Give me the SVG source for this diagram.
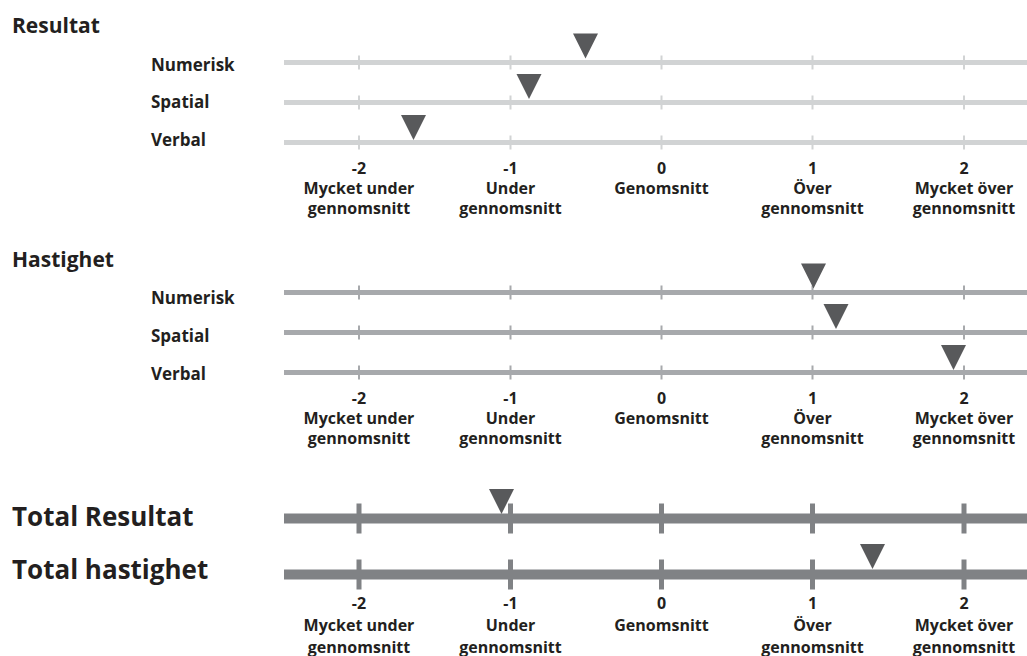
<svg xmlns="http://www.w3.org/2000/svg" width="1027" height="656" viewBox="0 0 1027 656">
<style>
text{font-family:"Open Sans","Liberation Sans",sans-serif;font-weight:bold;fill:#231f20}
.h{font-size:21px}
.r{font-size:17px}
.s{font-size:16px;text-anchor:middle}
.t{font-size:26px}
.l1{stroke:#d1d3d4;stroke-width:5}
.k1{stroke:#d1d3d4;stroke-width:2}
.l2{stroke:#a7a9ac;stroke-width:5}
.k2{stroke:#a7a9ac;stroke-width:2}
.l3{stroke:#808285;stroke-width:10}
.k3{stroke:#808285;stroke-width:5}
.m{fill:#58595b}
</style>
<defs>
<g id="ticks1"><path class="k1" d="M359,-7V7M510.5,-7V7M661.5,-7V7M812.5,-7V7M964,-7V7"/></g>
<g id="ticks2"><path class="k2" d="M359,-7V7M510.5,-7V7M661.5,-7V7M812.5,-7V7M964,-7V7"/></g>
<g id="ticks3"><path class="k3" d="M359,-15V15M510.5,-15V15M661.5,-15V15M812.5,-15V15M964,-15V15"/></g>
<path id="tri" d="M-12.5,-25H12.5L0,0Z"/>
<g id="scale">
<text class="s" x="359" y="0">-2</text>
<text class="s" x="359" y="20">Mycket under</text>
<text class="s" x="359" y="40">gennomsnitt</text>
<text class="s" x="510.5" y="0">-1</text>
<text class="s" x="510.5" y="20">Under</text>
<text class="s" x="510.5" y="40">gennomsnitt</text>
<text class="s" x="661.5" y="0">0</text>
<text class="s" x="661.5" y="20">Genomsnitt</text>
<text class="s" x="812.5" y="0">1</text>
<text class="s" x="812.5" y="20">Över</text>
<text class="s" x="812.5" y="40">gennomsnitt</text>
<text class="s" x="964" y="0">2</text>
<text class="s" x="964" y="20">Mycket över</text>
<text class="s" x="964" y="40">gennomsnitt</text>
</g>
</defs>

<g id="resultat">
<text class="h" x="12" y="33">Resultat</text>
<text class="r" x="151" y="70.5">Numerisk</text>
<text class="r" x="151" y="108">Spatial</text>
<text class="r" x="151" y="145.5">Verbal</text>
<line class="l1" x1="284" y1="62.5" x2="1027" y2="62.5"/>
<line class="l1" x1="284" y1="102.5" x2="1027" y2="102.5"/>
<line class="l1" x1="284" y1="142.5" x2="1027" y2="142.5"/>
<use href="#ticks1" y="62.5"/>
<use href="#ticks1" y="102.5"/>
<use href="#ticks1" y="142.5"/>
<use href="#tri" class="m" x="585.5" y="58.5"/>
<use href="#tri" class="m" x="529" y="99"/>
<use href="#tri" class="m" x="413.5" y="140"/>
<use href="#scale" y="173.5"/>
</g>

<g id="hastighet">
<text class="h" x="12" y="266.5">Hastighet</text>
<text class="r" x="151" y="304">Numerisk</text>
<text class="r" x="151" y="341.5">Spatial</text>
<text class="r" x="151" y="379.5">Verbal</text>
<line class="l2" x1="284" y1="292.5" x2="1027" y2="292.5"/>
<line class="l2" x1="284" y1="332.5" x2="1027" y2="332.5"/>
<line class="l2" x1="284" y1="372.5" x2="1027" y2="372.5"/>
<use href="#ticks2" y="292.5"/>
<use href="#ticks2" y="332.5"/>
<use href="#ticks2" y="372.5"/>
<use href="#tri" class="m" x="813.5" y="288.5"/>
<use href="#tri" class="m" x="836" y="329"/>
<use href="#tri" class="m" x="953.5" y="370"/>
<use href="#scale" y="403.5"/>
</g>

<g id="total">
<text class="t" x="12" y="526">Total Resultat</text>
<text class="t" x="12" y="578.5">Total hastighet</text>
<line class="l3" x1="284" y1="518.5" x2="1027" y2="518.5"/>
<line class="l3" x1="284" y1="574.5" x2="1027" y2="574.5"/>
<use href="#ticks3" y="518.5"/>
<use href="#ticks3" y="574.5"/>
<use href="#tri" class="m" x="501.5" y="514"/>
<use href="#tri" class="m" x="872.5" y="569"/>
<text class="s" x="359" y="608.5">-2</text>
<text class="s" x="359" y="630.5">Mycket under</text>
<text class="s" x="359" y="653">gennomsnitt</text>
<text class="s" x="510.5" y="608.5">-1</text>
<text class="s" x="510.5" y="630.5">Under</text>
<text class="s" x="510.5" y="653">gennomsnitt</text>
<text class="s" x="661.5" y="608.5">0</text>
<text class="s" x="661.5" y="630.5">Genomsnitt</text>
<text class="s" x="812.5" y="608.5">1</text>
<text class="s" x="812.5" y="630.5">Över</text>
<text class="s" x="812.5" y="653">gennomsnitt</text>
<text class="s" x="964" y="608.5">2</text>
<text class="s" x="964" y="630.5">Mycket över</text>
<text class="s" x="964" y="653">gennomsnitt</text>
</g>
</svg>
